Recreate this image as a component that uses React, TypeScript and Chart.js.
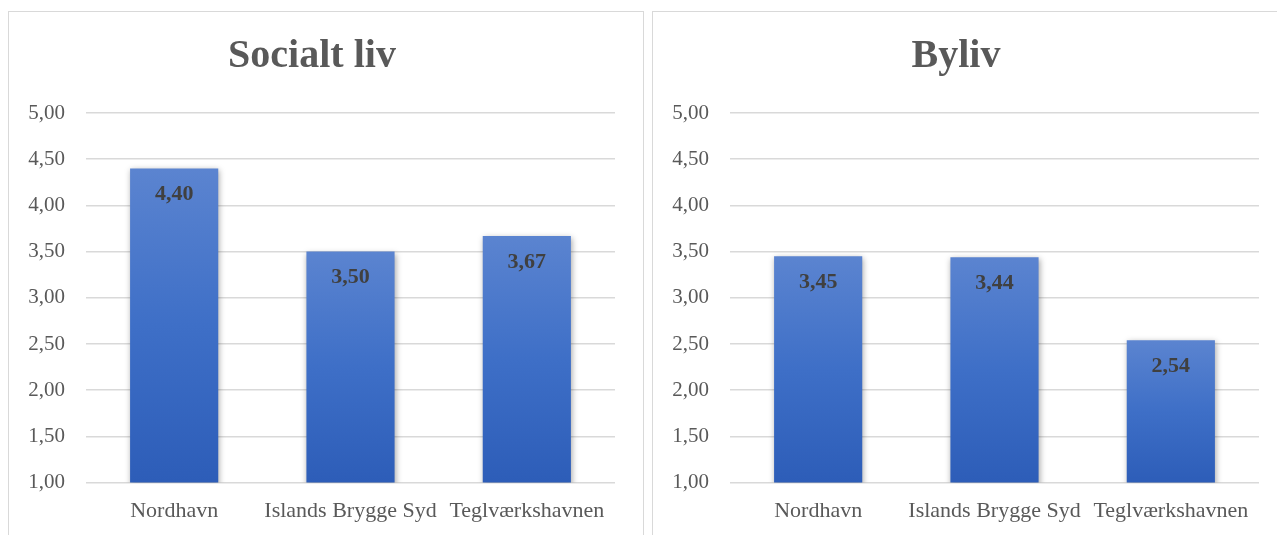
import React, { useEffect, useRef } from "react";
import { Chart, registerables } from "chart.js";

Chart.register(...registerables);

const categories = ["Nordhavn", "Islands Brygge Syd", "Teglværkshavnen"];
const socialtLivValues = [4.4, 3.5, 3.67];
const bylivValues = [3.45, 3.44, 2.54];
const titles = ["Socialt liv", "Byliv"];
const yMin = 1;
const yMax = 5;
const yStep = 0.5;

const SERIF = "'Liberation Serif', 'Times New Roman', serif";

const fmt = (v: number) => v.toFixed(2).replace(".", ",");

const shadowPlugin = {
  id: "barShadow",
  beforeDatasetsDraw(chart: any) {
    const ctx = chart.ctx;
    ctx.save();
    ctx.shadowColor = "rgba(0,0,0,0.35)";
    ctx.shadowBlur = 6;
    ctx.shadowOffsetX = 1;
    ctx.shadowOffsetY = 2;
  },
  afterDatasetsDraw(chart: any) {
    chart.ctx.restore();
  },
};

const labelPlugin = {
  id: "barLabels",
  afterDatasetsDraw(chart: any) {
    const ctx = chart.ctx;
    const meta = chart.getDatasetMeta(0);
    const data = chart.data.datasets[0].data as number[];
    ctx.save();
    ctx.font = `bold 22px ${SERIF}`;
    ctx.fillStyle = "#404040";
    ctx.textAlign = "center";
    ctx.textBaseline = "middle";
    meta.data.forEach((bar: any, i: number) => {
      ctx.fillText(fmt(data[i]), bar.x, bar.y + 26);
    });
    ctx.restore();
  },
};

function makeGradient(context: any) {
  const chart = context.chart;
  const yScale = chart.scales?.y;
  if (!yScale || context.raw === undefined) return "#4472c4";
  const top = yScale.getPixelForValue(context.raw);
  const bottom = yScale.getPixelForValue(yMin);
  if (!isFinite(top) || !isFinite(bottom) || top === bottom) return "#4472c4";
  const g = chart.ctx.createLinearGradient(0, top, 0, bottom);
  g.addColorStop(0, "#5b84d0");
  g.addColorStop(0.5, "#3e6fc7");
  g.addColorStop(1, "#2d5db8");
  return g;
}

function Panel({ title, values, left }: { title: string; values: number[]; left: number }) {
  const ref = useRef<HTMLCanvasElement>(null);
  useEffect(() => {
    if (!ref.current) return;
    const chart = new Chart(ref.current, {
      type: "bar",
      data: {
        labels: categories,
        datasets: [
          {
            data: values,
            backgroundColor: makeGradient,
            borderWidth: 0,
            barPercentage: 0.5,
            categoryPercentage: 1,
          },
        ],
      },
      options: {
        animation: false,
        responsive: false,
        maintainAspectRatio: false,
        layout: { padding: { left: 0, right: 28, top: 0, bottom: 13 } },
        plugins: {
          legend: { display: false },
          tooltip: { enabled: false },
          title: {
            display: true,
            text: title,
            color: "#595959",
            font: { family: SERIF, size: 40, weight: "bold" },
            padding: { top: 21, bottom: 32 },
          },
        },
        scales: {
          x: {
            grid: { display: false, drawTicks: false },
            border: { display: false },
            ticks: {
              color: "#595959",
              font: { family: SERIF, size: 22 },
              padding: 15,
              maxRotation: 0,
              autoSkip: false,
            },
          },
          y: {
            min: yMin,
            max: yMax,
            border: { display: false },
            grid: { color: "#d9d9d9", lineWidth: 1.5, drawTicks: false },
            ticks: {
              stepSize: yStep,
              color: "#595959",
              font: { family: SERIF, size: 21 },
              padding: 21,
              callback: (v: any) => fmt(Number(v)),
            },
            afterFit: (scale: any) => {
              scale.width = 77;
            },
          },
        },
      },
      plugins: [shadowPlugin, labelPlugin],
    });
    return () => chart.destroy();
  }, [title, values]);

  return (
    <div
      style={{
        position: "absolute",
        left,
        top: 11,
        width: 636,
        height: 560,
        border: "1px solid #d9d9d9",
        background: "#fff",
        boxSizing: "border-box",
      }}
    >
      <canvas
        ref={ref}
        width={634}
        height={540}
        style={{ position: "absolute", left: 0, top: 0, width: 634, height: 540 }}
      />
    </div>
  );
}

export default function App() {
  return (
    <div
      style={{
        position: "fixed",
        left: 0,
        top: 0,
        width: 1277,
        height: 535,
        overflow: "hidden",
        background: "#fff",
      }}
    >
      <Panel title={titles[0]} values={socialtLivValues} left={8} />
      <Panel title={titles[1]} values={bylivValues} left={652} />
    </div>
  );
}
